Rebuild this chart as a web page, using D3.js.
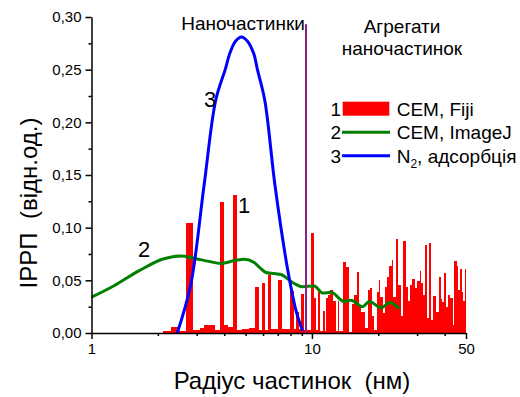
<!DOCTYPE html>
<html>
<head>
<meta charset="utf-8">
<script src="https://cdn.jsdelivr.net/npm/d3@7/dist/d3.min.js"></script>
<style>
  html, body { margin: 0; padding: 0; background: #fff; }
  svg { display: block; font-family: Arial, "Liberation Sans", sans-serif; }
</style>
</head>
<body>
<svg id="chart" width="520" height="397"></svg>
<script>
// Particle-size distributions: histogram of CEM (Fiji), CEM (ImageJ) curve, N2 adsorption curve

// Histogram bin edges (nm) and heights for "CEM, Fiji"
const fijiBinEdges = [
  2.118, 2.303, 2.494, 2.695, 2.887, 3.097, 3.240, 3.635, 3.818, 3.995,
  4.182, 4.388, 4.595, 4.842, 5.172, 5.525, 5.761, 5.907, 6.112, 6.29,
  6.51, 7.03, 7.285, 7.97, 8.26, 8.46, 8.757, 8.913, 9.17, 9.90,
  10.18, 10.39, 10.61, 10.91, 11.18, 11.46, 11.58, 11.86, 12.11, 12.50,
  12.85, 13.09, 13.31, 13.88, 14.27, 14.77, 15.15, 15.57, 15.97, 16.41,
  16.70, 17.47, 17.92, 18.35, 18.74, 19.20, 19.69, 20.10, 20.44, 20.96,
  21.47, 21.92, 22.46, 23.03, 23.35, 24.17, 24.68, 25.31, 25.92, 26.66,
  27.32, 27.80, 28.57, 29.30, 30.10, 30.87, 31.39, 31.95, 32.63, 33.22,
  34.02, 34.74, 35.48, 36.50, 37.11, 37.78, 38.58, 39.11, 39.81, 40.78,
  41.64, 42.40, 43.43, 44.21, 45.29, 46.10, 46.93, 47.72, 48.58, 49.3,
  49.7, 50.0
];
const fijiValues = [
  0.002, 0.006, 0.002, 0.104, 0.003, 0.005, 0.0076, 0.003, 0.1246, 0.008,
  0.006, 0.131, 0.003, 0.004, 0.005, 0.044, 0.003, 0.047, 0.003, 0.055,
  0.004, 0.050, 0.004, 0.040, 0.004, 0.020, 0.004, 0.037, 0.003, 0.095,
  0.033, 0.003, 0.039, 0.002, 0.021, 0.002, 0.033, 0.036, 0.041, 0.030,
  0.002, 0.030, 0.002, 0.067, 0.063, 0.001, 0.028, 0.036, 0.058, 0.025,
  0.020, 0.005, 0.041, 0.043, 0.016, 0.003, 0.039, 0.050, 0.034, 0.019,
  0.044, 0.053, 0.064, 0.069, 0.034, 0.089, 0.046, 0.016, 0.087, 0.044,
  0.030, 0.046, 0.051, 0.043, 0.049, 0.059, 0.047, 0.036, 0.0835, 0.014,
  0.085, 0.012, 0.035, 0.020, 0.020, 0.053, 0.032, 0.029, 0.057, 0.025,
  0.036, 0.033, 0.008, 0.068, 0.064, 0.041, 0.061, 0.039, 0.030, 0.026,
  0.061
];

// "CEM, ImageJ" smoothed distribution
const imagejRadius = [1.0, 1.26, 1.64, 2.13, 2.54, 2.92, 3.4, 3.86, 4.51, 4.92,
  5.47, 5.8, 6.18, 7.23, 8.31, 9.07, 10.24, 11.18, 12.2, 14.0, 15.0,
  17.0, 18.2, 20.6, 22.6, 24.9];
const imagejValues = [0.034, 0.0446, 0.059, 0.0705, 0.073, 0.071, 0.068, 0.066, 0.069, 0.070,
  0.067, 0.062, 0.0575, 0.0555, 0.047, 0.044, 0.0446, 0.038, 0.0386, 0.030, 0.031,
  0.025, 0.030, 0.024, 0.029, 0.023];

// "N2, адсорбція" distribution
const n2Radius = [2.45, 2.82, 3.24, 3.66, 4.04, 4.25, 4.5, 4.79, 5.1, 5.45,
  5.66, 6.11, 6.8, 7.75, 8.5, 9.07];
const n2Values = [0.0, 0.046, 0.140, 0.221, 0.250, 0.266, 0.277, 0.281, 0.277, 0.265,
  0.250, 0.221, 0.140, 0.061, 0.020, 0.002];

// Boundary between single nanoparticles and aggregates
const boundaryRadius = 9.4;
const boundaryTop = 0.293;

// Axis ticks
const xMajorTicks = [1, 10, 50];
const xMinorTicks = [2, 3, 4, 5, 6, 7, 8, 9, 20, 30, 40];
const yMajorTicks = [0, 0.05, 0.10, 0.15, 0.20, 0.25, 0.30];
const yMinorTicks = [0.025, 0.075, 0.125, 0.175, 0.225, 0.275];

const legendItems = [
  { num: "1", label: "CEM, Fiji", type: "bar", color: "#ff0000" },
  { num: "2", label: "CEM, ImageJ", type: "line", color: "#008000" },
  { num: "3", label: "N", sub: "2", rest: ", адсорбція", type: "line", color: "#0000ff" }
];

const svg = d3.select("#chart");

const x = d3.scaleLog().domain([1, 50]).range([91.5, 466]);
const y = d3.scaleLinear().domain([0, 0.30]).range([333, 17]);

const uaLocale = d3.formatLocale({ decimal: ",", thousands: " ", grouping: [3], currency: ["", ""] });
const fmt = uaLocale.format(".2f");

// Histogram bars
const bins = fijiValues.map((v, i) => ({ x0: fijiBinEdges[i], x1: fijiBinEdges[i + 1], v }));
svg.append("g")
  .selectAll("rect")
  .data(bins)
  .join("rect")
  .attr("x", d => x(d.x0))
  .attr("width", d => Math.max(0.5, x(d.x1) - x(d.x0)))
  .attr("y", d => y(d.v))
  .attr("height", d => y(0) - y(d.v))
  .attr("fill", "#ff0000")
  .attr("shape-rendering", "crispEdges");

// ImageJ curve
const lineGen = d3.line().x(d => x(d[0])).y(d => y(d[1])).curve(d3.curveMonotoneX);
svg.append("path")
  .datum(imagejRadius.map((r, i) => [r, imagejValues[i]]))
  .attr("d", lineGen)
  .attr("fill", "none")
  .attr("stroke", "#008000")
  .attr("stroke-width", 3);

// N2 adsorption curve
const n2Gen = d3.line().x(d => x(d[0])).y(d => y(d[1])).curve(d3.curveCatmullRom.alpha(0.5));
svg.append("path")
  .datum(n2Radius.map((r, i) => [r, n2Values[i]]))
  .attr("d", n2Gen)
  .attr("fill", "none")
  .attr("stroke", "#0000ff")
  .attr("stroke-width", 3);

// Boundary line
svg.append("line")
  .attr("x1", x(boundaryRadius)).attr("x2", x(boundaryRadius))
  .attr("y1", y(0)).attr("y2", y(boundaryTop))
  .attr("stroke", "#8a1f8a")
  .attr("stroke-width", 2);

// Axes
const xAxis = svg.append("g").attr("transform", `translate(0,${y(0)})`);
xAxis.append("g")
  .call(d3.axisBottom(x).tickValues(xMinorTicks).tickSize(3).tickFormat(""))
  .call(g => g.select(".domain").remove());
xAxis.append("g")
  .call(d3.axisBottom(x).tickValues(xMajorTicks).tickSize(6).tickSizeOuter(0).tickPadding(4)
    .tickFormat(d3.format("d")))
  .call(g => g.selectAll("text").attr("font-size", 15).attr("fill", "#000").attr("font-family", "Arial, 'Liberation Sans', sans-serif"));
xAxis.selectAll("line, path").attr("stroke", "#000").attr("stroke-width", 1.5);

const yAxis = svg.append("g").attr("transform", `translate(${x(1)},0)`);
yAxis.append("g")
  .call(d3.axisLeft(y).tickValues(yMinorTicks).tickSize(3).tickFormat(""))
  .call(g => g.select(".domain").remove());
yAxis.append("g")
  .call(d3.axisLeft(y).tickValues(yMajorTicks).tickSize(6).tickSizeOuter(0).tickPadding(4).tickFormat(fmt))
  .call(g => g.selectAll("text").attr("font-size", 15).attr("fill", "#000").attr("font-family", "Arial, 'Liberation Sans', sans-serif"));
yAxis.selectAll("line, path").attr("stroke", "#000").attr("stroke-width", 1.5);

// Axis titles
svg.append("text")
  .attr("x", 292).attr("y", 389)
  .attr("text-anchor", "middle")
  .attr("font-size", 24)
  .style("white-space", "pre")
  .text("Радіус частинок  (нм)");

svg.append("text")
  .attr("transform", "translate(37,203) rotate(-90)")
  .attr("text-anchor", "middle")
  .attr("font-size", 24)
  .style("white-space", "pre")
  .text("ІРРП  (відн.од.)");

// Region annotations
svg.append("text").attr("x", 243).attr("y", 30).attr("text-anchor", "middle")
  .attr("font-size", 19).text("Наночастинки");
svg.append("text").attr("x", 402).attr("y", 33).attr("text-anchor", "middle")
  .attr("font-size", 19).text("Агрегати");
svg.append("text").attr("x", 402).attr("y", 55).attr("text-anchor", "middle")
  .attr("font-size", 19).text("наночастинок");

// Curve labels
svg.append("text").attr("x", 244).attr("y", 213).attr("text-anchor", "middle").attr("font-size", 22).text("1");
svg.append("text").attr("x", 144).attr("y", 257).attr("text-anchor", "middle").attr("font-size", 22).text("2");
svg.append("text").attr("x", 210).attr("y", 107).attr("text-anchor", "middle").attr("font-size", 22).text("3");

// Legend
const legend = svg.append("g");
legendItems.forEach((d, i) => {
  const cy = 108.7 + i * 23.5;
  legend.append("text").attr("x", 341).attr("y", cy + 6.8).attr("text-anchor", "end")
    .attr("font-size", 19).text(d.num);
  if (d.type === "bar") {
    legend.append("rect").attr("x", 342.7).attr("y", cy - 7).attr("width", 46.6).attr("height", 14)
      .attr("fill", d.color);
  } else {
    legend.append("line").attr("x1", 342).attr("x2", 390).attr("y1", cy).attr("y2", cy)
      .attr("stroke", d.color).attr("stroke-width", 3);
  }
  const t = legend.append("text").attr("x", 396.7).attr("y", cy + 6.8).attr("font-size", 19);
  t.append("tspan").text(d.label);
  if (d.sub) {
    t.append("tspan").attr("dy", 5).attr("font-size", 12).text(d.sub);
    t.append("tspan").attr("dy", -5).text(d.rest);
  }
});
</script>
</body>
</html>
